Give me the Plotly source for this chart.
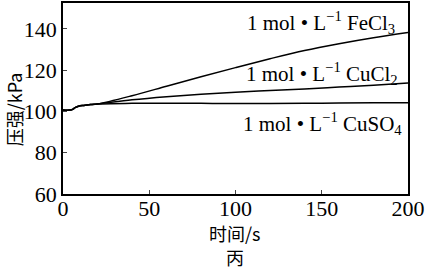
import plotly.graph_objects as go

t = [0, 5, 7, 9, 12, 16, 20, 40, 60, 80, 100, 120, 140, 160, 180, 200]
fecl3 = [100.7, 100.8, 101.8, 102.5, 102.9, 103.3, 103.6, 107.6, 112.2, 116.8, 121.2, 125.5, 129.5, 132.8, 135.7, 138.2]
cucl2 = [100.7, 100.8, 101.8, 102.5, 102.9, 103.3, 103.6, 105.6, 107.1, 108.3, 109.3, 110.1, 110.9, 111.8, 112.7, 113.7]
cuso4 = [100.7, 100.8, 101.8, 102.5, 102.9, 103.3, 103.6, 103.9, 104.0, 103.9, 103.8, 103.8, 103.9, 104.1, 104.2, 104.2]

labels = ["1 mol • L<sup>−1</sup> FeCl<sub>3</sub>",
          "1 mol • L<sup>−1</sup> CuCl<sub>2</sub>",
          "1 mol • L<sup>−1</sup> CuSO<sub>4</sub>"]
xticks = [0, 50, 100, 150, 200]
yticks = [60, 80, 100, 120, 140]

L, R, T, B = 63, 411, 1, 194
W, H = R - L, B - T


def px(xp):
    return (xp - L) / W


def py(yp):
    return 1 - (yp - T) / H


fig = go.Figure()
for ys in (fecl3, cucl2, cuso4):
    fig.add_trace(go.Scatter(x=t, y=ys, mode="lines", line=dict(color="black", width=1.5),
                             line_shape="spline", showlegend=False))

serif = "Liberation Serif"
cjk = "Noto Sans CJK SC"
fig.update_layout(
    width=426, height=270,
    margin=dict(l=L, r=426 - R, t=T, b=270 - B),
    paper_bgcolor="white", plot_bgcolor="white",
    font=dict(family=serif, size=21, color="black"),
    xaxis=dict(range=[0, 200], tickvals=xticks, ticks="inside", ticklen=4, tickwidth=1.2,
               showline=True, linewidth=1.5, linecolor="black", mirror=True,
               showgrid=False, zeroline=False, ticklabeloverflow="allow",
               ticklabelstandoff=-6,
               tickfont=dict(size=22, family=serif, color="black")),
    yaxis=dict(range=[60, 152.5], tickvals=yticks, ticks="inside", ticklen=4, tickwidth=1.2,
               showline=True, linewidth=1.5, linecolor="black", mirror=True,
               showgrid=False, zeroline=False, ticklabeloverflow="allow",
               tickfont=dict(size=22, family=serif, color="black")),
)

ann_pos = [(400, 21), (403, 72), (407, 123)]
for (xp, yp), txt in zip(ann_pos, labels):
    fig.add_annotation(x=px(xp), y=py(yp), xref="paper", yref="paper",
                       text=txt, showarrow=False, xanchor="right", yanchor="middle",
                       font=dict(size=21, family=serif, color="black"))

fig.add_annotation(x=px(13), y=py(108), xref="paper", yref="paper", text="压强/kPa",
                   showarrow=False, textangle=-90, xanchor="center", yanchor="middle",
                   font=dict(size=18, family=cjk, color="black"))
fig.add_annotation(x=px(236), y=py(233), xref="paper", yref="paper",
                   text="时间/s", showarrow=False, xanchor="center", yanchor="middle",
                   font=dict(size=18, family=cjk, color="black"))
fig.add_annotation(x=px(236), y=py(258), xref="paper", yref="paper",
                   text="丙", showarrow=False, xanchor="center", yanchor="middle",
                   font=dict(size=18, family=cjk, color="black"))

fig.write_html("out.html")
